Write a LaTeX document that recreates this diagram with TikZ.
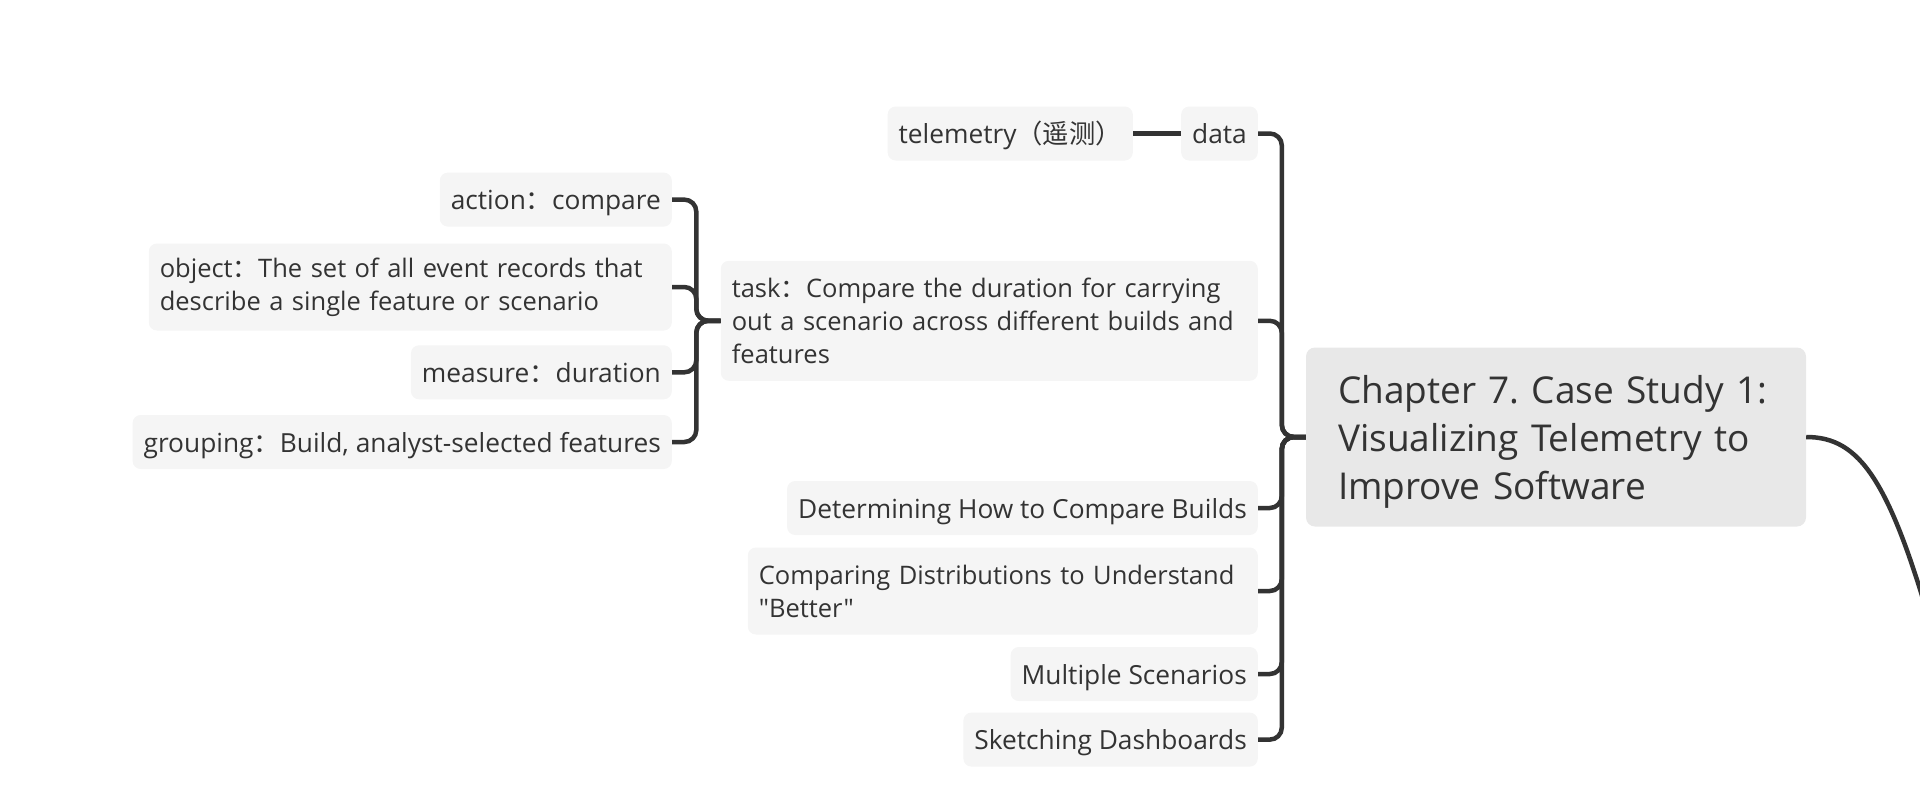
\documentclass[tikz,border=0pt]{standalone}
\usepackage{fontspec}
\newfontfamily\nm{Open Sans}
\newfontfamily\cjk{Noto Sans CJK SC}
\definecolor{linec}{HTML}{333333}
\definecolor{textc}{HTML}{333333}
\definecolor{nodefill}{HTML}{F5F5F5}
\definecolor{rootfill}{HTML}{E8E8E8}
\frenchspacing
\begin{document}
\begin{tikzpicture}[x=1pt,y=-1pt,
  nb/.style={rounded corners=8pt, fill=nodefill, inner xsep=11pt, inner ysep=0pt,
    align=left, text=textc, font=\nm\fontsize{25.5}{33}\selectfont\frenchspacing, anchor=east,
    minimum height=54pt},
  one/.style={nb, font=\nm\fontsize{26.3}{33}\selectfont\frenchspacing,
    text height=22pt, text depth=2pt},
  rootbox/.style={rounded corners=9pt, fill=rootfill, inner sep=0pt,
    minimum height=179pt, minimum width=500pt},
  roottext/.style={inner xsep=32pt, inner ysep=0pt,
    align=left, text=textc, font=\nm\fontsize{37}{48}\selectfont\frenchspacing,
    text width=436pt},
  conn/.style={draw=linec, line width=4.5pt, rounded corners=12pt, line cap=butt}]
\useasboundingbox (0,0) rectangle (1920,796);
\clip (0,0) rectangle (1920,796);

% root
\node[rootbox] (root) at (1556,437) {};
\node[roottext] (roottxt) at (1556,442) {Chapter 7. Case Study 1:\\Visualizing Telemetry to\\Improve Software};

% right-side children of root
\node[one] (data) at (1258,133.5) {data};
\node[one] (tele) at (1133,133.5) {telemetry{\cjk （遥测）}};
\node[nb, text width=515pt, minimum height=120pt] (task) at (1258,320.8)
  {task{\cjk ：}Compare the duration for carrying\\out a scenario across different builds and\\features};
\node[one] (determ) at (1258,508) {Determining How to Compare Builds};
\node[nb, text width=488pt, minimum height=87pt] (compar) at (1258,591)
  {Comparing Distributions to Understand\\"Better"};
\node[one] (multi) at (1258,674) {Multiple Scenarios};
\node[one] (sketch) at (1258,739.6) {Sketching Dashboards};

% task children
\node[one] (action) at (672,199.6) {action{\cjk ：}compare};
\node[nb, text width=501pt, minimum height=87pt] (object) at (672,287)
  {object{\cjk ：}The set of all event records that\\describe a single feature or scenario};
\node[one] (measure) at (672,372.3) {measure{\cjk ：}duration};
\node[one] (group) at (672,442) {grouping{\cjk ：}Build, analyst-selected features};

% connectors root -> children
\foreach \c in {data,task,determ,compar,multi,sketch}
  \draw[conn] (root.west) -- ++(-24,0) |- (\c.east);
% data -> telemetry
\draw[conn] (data.west) -- (tele.east);
% task -> children
\foreach \c in {action,object,measure,group}
  \draw[conn] (task.west) -- ++(-24.3,0) |- (\c.east);
% root -> off-canvas
\coordinate (offc) at (1935,640);
\draw[conn] (root.east) .. controls (1860,437) and (1890,480) .. (offc);
\end{tikzpicture}
\end{document}
